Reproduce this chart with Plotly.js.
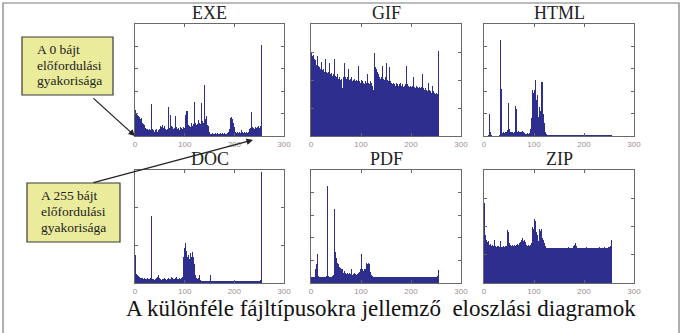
<!DOCTYPE html>
<html><head><meta charset="utf-8">
<script src="https://cdn.plot.ly/plotly-3.0.1.min.js"></script>
<style>html,body{margin:0;padding:0;background:#fff}#chart{width:682px;height:333px}</style>
</head><body><div id="chart"></div>
<script>
// Byte-value histograms, 128 bins of 2 byte values each (0..255)
const fileTypes = ['EXE','GIF','HTML','DOC','PDF','ZIP'];
const exeFreq = [
 1.15,1.00,0.95,0.90,0.85,0.75,0.80,0.60,0.55,0.50,0.35,0.30,0.30,0.25,0.30,0.25,
 1.45,0.30,0.25,0.20,0.25,0.30,0.20,0.25,0.30,0.45,0.40,0.50,0.35,0.45,0.30,0.25,
 0.30,1.30,0.35,0.95,0.45,0.40,0.30,0.35,0.90,0.40,0.30,0.35,0.25,0.40,0.35,0.30,
 0.40,0.35,0.95,1.12,1.10,0.50,0.45,0.40,0.60,0.45,0.55,1.50,0.60,0.50,0.55,0.70,
 0.60,0.55,1.47,0.65,0.60,2.28,0.75,0.90,0.50,0.45,0.20,0.12,0.10,0.10,0.15,0.10,
 0.10,0.12,0.10,0.15,0.10,0.10,0.12,0.10,0.15,0.10,0.12,0.10,0.10,0.15,0.20,0.30,
 0.80,0.85,0.75,0.60,0.40,0.20,0.15,0.20,0.15,0.20,0.15,0.25,0.20,0.15,0.20,0.15,
 0.20,0.15,0.20,0.30,0.35,1.08,0.40,0.35,0.30,0.40,0.35,0.40,0.45,0.35,0.45,4.06];
const gifFreq = [
 2.95,2.85,2.90,2.75,2.70,2.55,2.85,2.50,2.45,2.40,2.65,2.35,2.40,2.30,2.75,2.30,
 2.25,2.30,2.60,2.20,2.25,2.15,2.20,2.75,2.15,2.10,2.20,2.05,2.10,2.00,2.05,1.70,
 2.10,2.60,2.10,2.05,2.10,2.40,2.00,2.05,2.10,1.95,2.00,2.05,1.95,2.00,1.95,2.50,
 1.95,1.90,2.00,1.95,1.90,1.85,1.95,1.90,2.20,1.90,1.85,1.95,1.90,1.80,1.64,2.95,
 2.45,2.40,2.30,2.20,2.10,2.05,2.10,2.50,2.05,2.00,2.10,2.60,2.00,1.95,2.45,1.95,
 1.90,1.85,1.90,1.85,1.80,1.90,1.85,1.80,1.85,1.90,1.80,1.85,1.75,1.80,1.85,2.50,
 1.85,1.80,1.75,1.80,1.75,1.80,2.10,1.75,1.70,1.80,1.75,1.70,1.75,1.70,1.75,2.20,
 1.70,1.65,1.70,1.65,1.60,1.90,1.65,1.60,1.55,1.80,1.60,1.55,1.50,1.55,1.50,3.05];
const htmlFreq = [
 0.02,0.02,0.02,0.02,0.03,1.00,0.20,0.03,0.02,0.02,0.02,0.02,0.02,0.02,0.02,0.03,
 4.28,2.08,0.15,0.20,0.15,0.18,0.20,0.25,1.48,0.30,0.20,0.18,0.20,0.15,0.20,1.32,
 1.20,0.20,0.22,0.20,0.18,0.20,0.22,0.20,0.15,0.10,0.10,0.12,0.10,0.15,0.30,0.80,
 2.05,1.90,2.05,2.52,1.60,1.85,0.85,1.30,1.10,2.40,2.40,1.00,0.60,0.20,0.10,0.05,
 0.04,0.03,0.03,0.04,0.03,0.03,0.04,0.03,0.03,0.03,0.04,0.03,0.03,0.04,0.03,0.03,
 0.03,0.04,0.03,0.03,0.05,0.03,0.03,0.04,0.03,0.03,0.04,0.05,0.03,0.03,0.04,0.03,
 0.03,0.04,0.03,0.03,0.04,0.03,0.03,0.05,0.04,0.03,0.03,0.04,0.03,0.03,0.04,0.03,
 0.03,0.04,0.03,0.05,0.04,0.03,0.03,0.04,0.03,0.03,0.04,0.03,0.03,0.03,0.03,0.04];
const docFreq = [
 0.75,0.25,0.20,0.18,0.15,0.12,0.13,0.12,0.10,0.12,0.10,0.10,0.12,0.10,0.10,0.12,
 1.77,0.10,0.10,0.08,0.10,0.12,0.15,0.20,0.12,0.10,0.08,0.10,0.10,0.12,0.10,0.08,
 0.10,0.12,0.10,0.10,0.15,0.12,0.10,0.10,0.12,0.15,0.10,0.10,0.12,0.10,0.12,0.15,
 0.70,0.93,1.06,0.85,0.70,0.75,0.65,0.80,0.70,0.82,0.70,0.50,0.20,0.12,0.10,0.12,
 0.20,0.08,0.06,0.06,0.05,0.06,0.05,0.06,0.05,0.05,0.06,0.05,0.20,0.06,0.05,0.05,
 0.05,0.06,0.05,0.05,0.06,0.05,0.05,0.06,0.05,0.05,0.06,0.05,0.05,0.06,0.05,0.05,
 0.06,0.05,0.05,0.06,0.05,0.05,0.06,0.05,0.05,0.06,0.05,0.05,0.06,0.05,0.05,0.06,
 0.05,0.05,0.06,0.05,0.05,0.06,0.05,0.05,0.06,0.05,0.05,0.06,0.05,0.06,0.08,2.95];
const pdfFreq = [
 0.27,0.27,0.27,0.28,0.60,0.86,1.28,0.30,0.28,0.27,0.27,0.28,0.27,0.27,0.28,0.30,
 4.28,0.30,0.28,0.27,0.28,0.30,0.35,3.29,1.37,1.10,0.90,0.85,0.70,0.65,0.60,0.60,
 0.45,0.55,0.45,0.40,0.45,0.40,0.45,0.40,0.60,0.35,0.40,0.45,0.40,0.35,0.40,0.45,
 0.50,0.60,1.27,0.60,0.55,0.60,0.60,0.90,0.85,0.90,0.85,0.50,0.35,0.30,0.28,0.27,
 0.27,0.27,0.28,0.27,0.27,0.28,0.27,0.27,0.27,0.28,0.27,0.27,0.27,0.28,0.27,0.27,
 0.28,0.27,0.27,0.27,0.28,0.27,0.27,0.28,0.27,0.27,0.27,0.28,0.27,0.27,0.28,0.27,
 0.27,0.28,0.27,0.27,0.27,0.28,0.27,0.27,0.28,0.27,0.27,0.27,0.28,0.27,0.27,0.28,
 0.27,0.27,0.28,0.27,0.27,0.27,0.28,0.27,0.27,0.28,0.27,0.27,0.28,0.27,0.30,0.56];
const zipFreq = [
 2.83,1.70,1.52,1.45,1.50,1.34,1.38,1.30,1.35,1.32,1.52,1.30,1.28,1.32,1.30,1.27,
 1.47,1.28,1.27,1.30,1.28,1.30,1.32,1.87,1.80,1.40,1.34,1.30,1.35,1.32,1.34,1.30,
 1.34,1.38,1.35,1.40,1.45,1.52,1.58,1.50,1.52,1.45,1.34,1.30,1.34,1.32,1.35,1.40,
 2.00,1.90,2.26,2.20,1.82,1.70,1.50,1.90,1.85,1.90,1.60,1.52,1.40,1.30,1.25,1.24,
 1.24,1.25,1.23,1.24,1.25,1.24,1.23,1.24,1.25,1.24,1.23,1.25,1.24,1.23,1.24,1.25,
 1.24,1.23,1.25,1.24,1.26,1.24,1.23,1.25,1.24,1.30,1.35,1.42,1.30,1.25,1.24,1.23,
 1.24,1.25,1.24,1.23,1.25,1.24,1.26,1.24,1.23,1.25,1.24,1.23,1.25,1.24,1.23,1.25,
 1.24,1.25,1.24,1.26,1.24,1.23,1.25,1.24,1.26,1.25,1.24,1.25,1.26,1.27,1.30,1.52];
const seriesList = [exeFreq, gifFreq, htmlFreq, docFreq, pdfFreq, zipFreq];
const yMax = [5, 4, 5, 3, 5, 4];
const xTickVals = [0, 100, 200, 300];
const xTickText = ['0', '100', '200', '300'];
const captionText = 'A különféle fájltípusokra jellemző\u00a0 eloszlási diagramok';
const note0Lines = ['A 0 bájt', 'előfordulási', 'gyakorisága'];
const note255Lines = ['A 255 bájt', 'előfordulási', 'gyakorisága'];

// ---- layout helpers (pixel -> paper) ----
const W = 682, H = 333;
const px = x => x / W;
const py = y => 1 - y / H;
const colPx = [[135, 284], [311, 461], [484, 634]];
const rowPx = [[24, 136], [170, 283]];
const barColor = '#2d2e8e';
const serif = '"Times New Roman", "Liberation Serif", "DejaVu Serif", serif';

const traces = [];
const layout = {
  width: W, height: H, margin: {l: 0, r: 0, t: 0, b: 0},
  paper_bgcolor: '#fff', plot_bgcolor: '#fff', showlegend: false,
  bargap: 0, annotations: [], shapes: []
};
// byte bin starts (0,2,...,254) - category positions
const binCenters = exeFreq.map((_, i) => i * 2 + 1);

seriesList.forEach((vals, k) => {
  const n = k + 1;
  const xa = 'xaxis' + (n === 1 ? '' : n), ya = 'yaxis' + (n === 1 ? '' : n);
  const c = colPx[k % 3], r = rowPx[Math.floor(k / 3)];
  traces.push({
    type: 'bar', x: binCenters, y: vals, width: 2,
    xaxis: 'x' + (n === 1 ? '' : n), yaxis: 'y' + (n === 1 ? '' : n),
    marker: {color: barColor, line: {width: 0}}, hoverinfo: 'skip'
  });
  layout[xa] = {
    domain: [px(c[0]), px(c[1])], anchor: 'y' + (n === 1 ? '' : n),
    range: [0, 300], tickvals: xTickVals, ticktext: xTickText,
    ticks: 'inside', ticklen: 3, tickcolor: '#666', mirror: 'ticks',
    showline: true, linecolor: '#6a6a6a', linewidth: 1, showgrid: false, zeroline: false,
    tickfont: {family: 'Arial, "Liberation Sans", sans-serif', size: 8, color: '#9a8f8f'}
  };
  layout[ya] = {
    domain: [py(r[1]), py(r[0])], anchor: 'x' + (n === 1 ? '' : n),
    range: [0, yMax[k]], dtick: 1, showticklabels: false,
    ticks: 'inside', ticklen: 3, tickcolor: '#666', mirror: 'ticks',
    showline: true, linecolor: '#6a6a6a', linewidth: 1, showgrid: false, zeroline: false
  };
  layout.annotations.push({
    xref: 'paper', yref: 'paper', x: px((c[0] + c[1]) / 2), y: py(r[0] - 11),
    xanchor: 'center', yanchor: 'middle', showarrow: false,
    text: fileTypes[k], font: {family: serif, size: 18, color: '#222'}
  });
});

// outer frame
layout.shapes.push({type: 'rect', xref: 'paper', yref: 'paper',
  x0: px(3), x1: px(679), y0: py(340), y1: py(3), line: {color: '#7a7a7a', width: 1.2}});
// note boxes
const boxes = [
  {x0: 22, x1: 113, y0: 37, y1: 95, lines: note0Lines, tx: 35, ty0: 50},
  {x0: 27, x1: 120, y0: 183, y1: 242, lines: note255Lines, tx: 39, ty0: 196}
];
boxes.forEach(b => {
  layout.shapes.push({type: 'rect', xref: 'paper', yref: 'paper',
    x0: px(b.x0), x1: px(b.x1), y0: py(b.y1), y1: py(b.y0),
    fillcolor: '#ebeb9c', line: {color: '#3a3a3a', width: 1.2}});
  b.lines.forEach((t, j) => layout.annotations.push({
    xref: 'paper', yref: 'paper', x: px(b.tx), y: py(b.ty0 + j * 15.5),
    xanchor: 'left', yanchor: 'middle', showarrow: false,
    text: t, font: {family: serif, size: 13.5, color: '#222'}
  }));
});
// arrows
layout.annotations.push({xref: 'paper', yref: 'paper', x: px(135), y: py(136),
  ax: -43, ay: -39, showarrow: true, arrowhead: 2, arrowsize: 1, arrowwidth: 1.3,
  arrowcolor: '#222', text: ''});
layout.annotations.push({xref: 'paper', yref: 'paper', x: px(253), y: py(140),
  ax: -161, ay: 43, showarrow: true, arrowhead: 2, arrowsize: 1, arrowwidth: 1.3,
  arrowcolor: '#222', text: ''});
// caption
layout.annotations.push({xref: 'paper', yref: 'paper', x: px(381), y: py(308),
  xanchor: 'center', yanchor: 'middle', showarrow: false,
  text: captionText, font: {family: serif, size: 23, color: '#111'}});

Plotly.newPlot('chart', traces, layout, {staticPlot: true, displayModeBar: false});
</script></body></html>
